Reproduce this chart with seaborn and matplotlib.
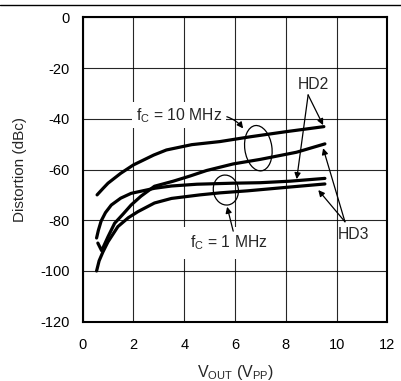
import numpy as np
import pandas as pd
import seaborn as sns
import matplotlib.pyplot as plt
from matplotlib.lines import Line2D
from matplotlib.patches import Ellipse


## DATA
hd2_10m_x = [0.57, 0.8, 1.0, 1.5, 2.0, 2.8, 3.3, 4.3, 5.4, 6.6, 8.0, 9.5]
hd2_10m_y = [-70, -67.5, -65.4, -61.5, -58.2, -54.3, -52.3, -50.2, -49.0, -47.1, -45.1, -43.1]

hd3_10m_x = [0.6, 0.75, 1.0, 1.26, 1.6, 1.91, 2.3, 2.83, 3.57, 4.22, 4.88, 5.93, 7.0, 8.42, 9.54]
hd3_10m_y = [-89, -92, -86.5, -81.2, -77.5, -74, -70.5, -66.6, -64.6, -62.6, -60.4, -57.8, -56.0, -53.2, -49.9]

hd2_1m_x = [0.55, 0.62, 0.73, 0.9, 1.13, 1.5, 1.91, 2.83, 3.5, 4.5, 5.9, 7.0, 8.17, 9.54]
hd2_1m_y = [-87, -84, -80.3, -77, -74, -71.3, -69.4, -67.4, -66.5, -65.8, -65.4, -65.2, -64.6, -63.5]

hd3_1m_x = [0.55, 0.65, 0.8, 1.0, 1.39, 1.8, 2.18, 2.83, 3.5, 4.62, 5.41, 6.5, 8.17, 9.54]
hd3_1m_y = [-100, -96, -92.5, -88.5, -82.5, -79, -76.6, -73.2, -71.4, -70, -69.2, -68.4, -66.9, -65.7]

xticks = [0, 2, 4, 6, 8, 10, 12]
yticks = [0, -20, -40, -60, -80, -100, -120]

curves = {
    '10MHz HD2': (hd2_10m_x, hd2_10m_y),
    '10MHz HD3': (hd3_10m_x, hd3_10m_y),
    '1MHz HD2': (hd2_1m_x, hd2_1m_y),
    '1MHz HD3': (hd3_1m_x, hd3_1m_y),
}
df = pd.concat([pd.DataFrame({'vout': x, 'dist': y, 'curve': k})
                for k, (x, y) in curves.items()], ignore_index=True)


## STYLE
sns.set_theme(style='white')
plt.rcParams['font.family'] = ['Liberation Sans', 'DejaVu Sans']
plt.rcParams['mathtext.fontset'] = 'custom'
plt.rcParams['mathtext.rm'] = 'Liberation Sans'
plt.rcParams['axes.unicode_minus'] = False


## PLOT
fig = plt.figure(figsize=(4.01, 3.81), dpi=100)
ax = fig.add_axes([0.206, 0.1556, 0.760, 0.799])

sns.lineplot(data=df, x='vout', y='dist', units='curve', estimator=None,
             color='black', lw=2.3, sort=False, ax=ax, zorder=3)

ax.set_xlim(0, 12)
ax.set_ylim(-120, 0)
ax.set_xticks(xticks)
ax.set_yticks(yticks)
ax.grid(True, color='black', lw=0.8, alpha=0.85)
ax.tick_params(axis='both', length=0, labelsize=10.5, colors='black')
ax.tick_params(axis='x', pad=12)
ax.tick_params(axis='y', pad=9)
for s in ax.spines.values():
    s.set_color('black')
    s.set_linewidth(1.5)

ax.set_xlabel(r'V$_\mathrm{OUT}$ (V$_\mathrm{PP}$)', fontsize=11.5)
ax.set_ylabel('Distortion (dBc)', fontsize=11)
ax.xaxis.set_label_coords(0.503, -0.135)
ax.yaxis.set_label_coords(-0.183, 0.5)

## ANNOTATIONS
arrow = dict(arrowstyle='-|>', lw=0.9, color='black', mutation_scale=9,
             shrinkA=0, shrinkB=0)
box = dict(facecolor='white', edgecolor='none', pad=2.5)

ax.text(2.1, -38.6, r'f$_\mathrm{C}$ = 10 MHz', fontsize=11.3, va='center',
        ha='left', bbox=box, zorder=2.5)
ax.annotate('', xy=(6.32, -43.8), xytext=(5.68, -39.2), arrowprops=dict(
    arrow, connectionstyle='arc3,rad=-0.15'), zorder=4)
ax.add_patch(Ellipse((6.92 / 12, (120 - 51.6) / 120), 0.089, 0.150, angle=8,
                     transform=ax.transAxes, fill=False, lw=0.9, color='black', zorder=4))

ax.text(5.74, -89, r'f$_\mathrm{C}$ = 1 MHz', fontsize=11.3, va='center',
        ha='center', bbox=dict(facecolor='white', edgecolor='none', pad=5), zorder=2.5)
ax.annotate('', xy=(5.69, -74.7), xytext=(5.93, -84.3), arrowprops=arrow, zorder=4)
ax.add_patch(Ellipse((5.64 / 12, (120 - 68.1) / 120), 0.082, 0.099, angle=10,
                     transform=ax.transAxes, fill=False, lw=0.9, color='black', zorder=4))

ax.text(9.09, -26.3, 'HD2', fontsize=11.3, ha='center', va='center', zorder=4)
ax.annotate('', xy=(9.47, -42.5), xytext=(8.88, -30.6), arrowprops=arrow, zorder=4)
ax.annotate('', xy=(8.43, -63.8), xytext=(8.88, -30.6), arrowprops=arrow, zorder=4)

ax.text(10.65, -85.8, 'HD3', fontsize=11.3, ha='center', va='center', zorder=4)
ax.annotate('', xy=(9.47, -51.6), xytext=(10.33, -80.6), arrowprops=arrow, zorder=4)
ax.annotate('', xy=(9.28, -68.1), xytext=(10.33, -80.6), arrowprops=arrow, zorder=4)

fig.add_artist(Line2D([0, 1], [0.987, 0.987], color='black', lw=1.0))

fig.savefig('out.png', dpi=100)
